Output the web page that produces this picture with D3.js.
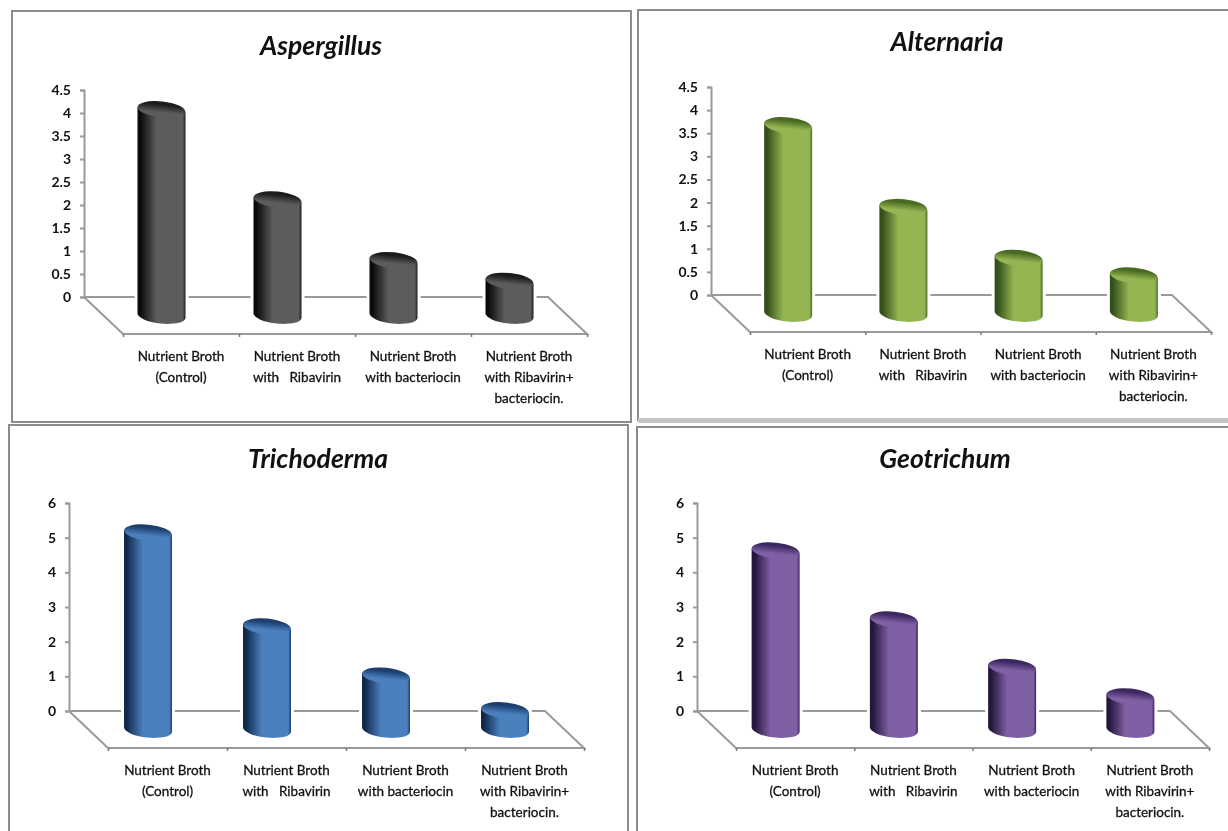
<!DOCTYPE html>
<html>
<head>
<meta charset="utf-8">
<script src="https://cdn.jsdelivr.net/npm/d3@7"></script>
<style>
  html, body { margin: 0; padding: 0; background: #fff; }
  svg { display: block; }
  text { font-family: Lato, "Open Sans", sans-serif; fill: #111; }
  .soft { filter: blur(0.7px); }
</style>
</head>
<body>
<div id="chart"></div>
<script>
const categories = [
    ["Nutrient Broth", "(Control)"],
    ["Nutrient Broth", "with   Ribavirin"],
    ["Nutrient Broth", "with bacteriocin"],
    ["Nutrient Broth", "with Ribavirin+", "bacteriocin."]
];
const titles = ["Aspergillus", "Alternaria", "Trichoderma", "Geotrichum"];
const aspergillusValues = [4.48, 2.52, 1.2, 0.75];
const alternariaValues = [4.07, 2.3, 1.2, 0.82];
const trichodermaValues = [5.68, 2.97, 1.55, 0.55];
const geotrichumValues = [5.16, 3.17, 1.8, 0.95];
const ticksSmall = [0, 0.5, 1, 1.5, 2, 2.5, 3, 3.5, 4, 4.5];
const ticksLarge = [0, 1, 2, 3, 4, 5, 6];

// colours: edge, middle, rim of the cap
const dark = ["#0a0a0a", "#5c5c5c", "#1c1c1c"];
const green = ["#34501a", "#93b552", "#4a6a22"];
const blue = ["#10294a", "#4b80bf", "#1c3f6e"];
const purple = ["#24163c", "#8060a4", "#3c2860"];

// where each panel sits in the picture
const panels = [
    {values: aspergillusValues, ticks: ticksSmall, max: 4.5, colors: dark,   x0: 84,  x1: 548,  y0: 297, y1: 90,  titleX: 321, titleY: 55},
    {values: alternariaValues,  ticks: ticksSmall, max: 4.5, colors: green,  x0: 711, x1: 1172, y0: 295, y1: 87,  titleX: 947, titleY: 51},
    {values: trichodermaValues, ticks: ticksLarge, max: 6,   colors: blue,   x0: 69,  x1: 545,  y0: 711, y1: 503, titleX: 318, titleY: 468},
    {values: geotrichumValues,  ticks: ticksLarge, max: 6,   colors: purple, x0: 697, x1: 1170, y0: 711, y1: 503, titleX: 945, titleY: 468}
];

const width = 1228;
const height = 831;
const depthX = 39;
const depthY = 37;
const barWidth = 48;
const capHeight = 8;
const tilt = 6;
const axisColor = "#9a9a9a";

const svg = d3.select("#chart").append("svg")
    .attr("width", width)
    .attr("height", height)
    .attr("viewBox", [0, 0, width, height]);

const defs = svg.append("defs");
const root = svg.append("g").attr("class", "soft");

// frames around the four pictures
const frames = [
    "M12,422V11H631V422Z",
    "M1228,10H638V420H1228",
    "M9,831V425H628V831",
    "M1228,427H637V831"
];
root.selectAll(".frame").data(frames).join("path")
    .attr("class", "frame")
    .attr("d", d => d)
    .attr("fill", "none")
    .attr("stroke", "#8c8c8c")
    .attr("stroke-width", 2);
root.append("path")
    .attr("d", "M638,420.5H1228")
    .attr("stroke", "#c4c4c4")
    .attr("stroke-width", 5);

panels.forEach((p, idx) => {
    const g = root.append("g");

    const y = d3.scaleLinear().domain([0, p.max]).range([p.y0, p.y1]);
    const x = d3.scaleBand().domain(d3.range(categories.length)).range([p.x0, p.x1]);
    const front = d3.scaleLinear().domain([0, categories.length])
        .range([p.x0 + depthX, p.x1 + depthX]);

    // title
    g.append("text")
        .attr("x", p.titleX)
        .attr("y", p.titleY)
        .attr("text-anchor", "middle")
        .attr("font-size", 26.5)
        .attr("font-weight", 700)
        .attr("font-style", "italic")
        .attr("fill", "#000")
        .text(titles[idx]);

    // floor
    g.append("path")
        .attr("d", d3.line()([
            [p.x0, p.y0], [p.x1, p.y0],
            [p.x1 + depthX, p.y0 + depthY],
            [p.x0 + depthX, p.y0 + depthY],
            [p.x0, p.y0]
        ]))
        .attr("fill", "none")
        .attr("stroke", axisColor)
        .attr("stroke-width", 2);

    // value axis
    g.append("g")
        .attr("transform", `translate(${p.x0},0)`)
        .call(d3.axisLeft(y).tickValues(p.ticks).tickFormat(d3.format("~g")).tickSize(4).tickPadding(9))
        .call(a => a.selectAll("path,line").attr("stroke", axisColor).attr("stroke-width", 2))
        .call(a => a.selectAll("text")
            .attr("font-family", "Lato, sans-serif")
            .attr("font-size", 14)
            .attr("font-weight", 700)
            .attr("fill", "#111"));

    // category axis ticks on the front edge
    g.append("g")
        .attr("transform", `translate(0,${p.y0 + depthY})`)
        .call(d3.axisBottom(front).ticks(categories.length).tickSize(3).tickFormat(""))
        .call(a => a.select(".domain").remove())
        .call(a => a.selectAll("line").attr("stroke", "#777").attr("stroke-width", 1.5));

    // category labels
    categories.forEach((lines, i) => {
        lines.forEach((line, j) => {
            g.append("text")
                .attr("x", front(i + 0.5))
                .attr("y", p.y0 + depthY + 27 + j * 21)
                .attr("text-anchor", "middle")
                .attr("font-size", 13.5)
                .attr("fill", "#111")
                .attr("stroke", "#111")
                .attr("stroke-width", 0.3)
                .style("white-space", "pre")
                .text(line);
        });
    });

    // cylinder gradients
    const bodyId = "body" + idx;
    defs.append("linearGradient").attr("id", bodyId)
        .selectAll("stop")
        .data([[0, p.colors[0]], [0.06, p.colors[0]], [0.4, p.colors[1]], [0.94, p.colors[1]], [1, p.colors[2]]])
        .join("stop")
        .attr("offset", d => d[0])
        .attr("stop-color", d => d[1]);
    const capId = "cap" + idx;
    defs.append("linearGradient").attr("id", capId)
        .attr("x1", 0).attr("x2", 0).attr("y1", 0).attr("y2", 1)
        .selectAll("stop")
        .data([[0, p.colors[2]], [0.2, p.colors[2]], [0.7, p.colors[1]], [1, p.colors[1]]])
        .join("stop")
        .attr("offset", d => d[0])
        .attr("stop-color", d => d[1]);

    // cylinders stand half way back on the floor, turned slightly
    const rx = barWidth / 2;
    const lift = rx * Math.sin(tilt * Math.PI / 180);
    p.values.forEach((v, i) => {
        const cx = x(i) + x.bandwidth() / 2 + depthX / 2;
        const top = y(v) + depthY / 2;
        const bottom = y(0) + depthY / 2;
        const d = `M${cx - rx},${top - lift}V${bottom - lift}A${rx},${capHeight} ${tilt} 0 0 ${cx + rx},${bottom + lift}V${top + lift}Z`;
        g.append("path")
            .attr("d", d)
            .attr("fill", "none")
            .attr("stroke", "#fff")
            .attr("stroke-width", 6);
        g.append("path")
            .attr("d", d)
            .attr("fill", `url(#${bodyId})`);
        g.append("ellipse")
            .attr("transform", `rotate(${tilt},${cx},${top})`)
            .attr("cx", cx)
            .attr("cy", top)
            .attr("rx", rx)
            .attr("ry", capHeight)
            .attr("fill", `url(#${capId})`);
    });
});
</script>
</body>
</html>
